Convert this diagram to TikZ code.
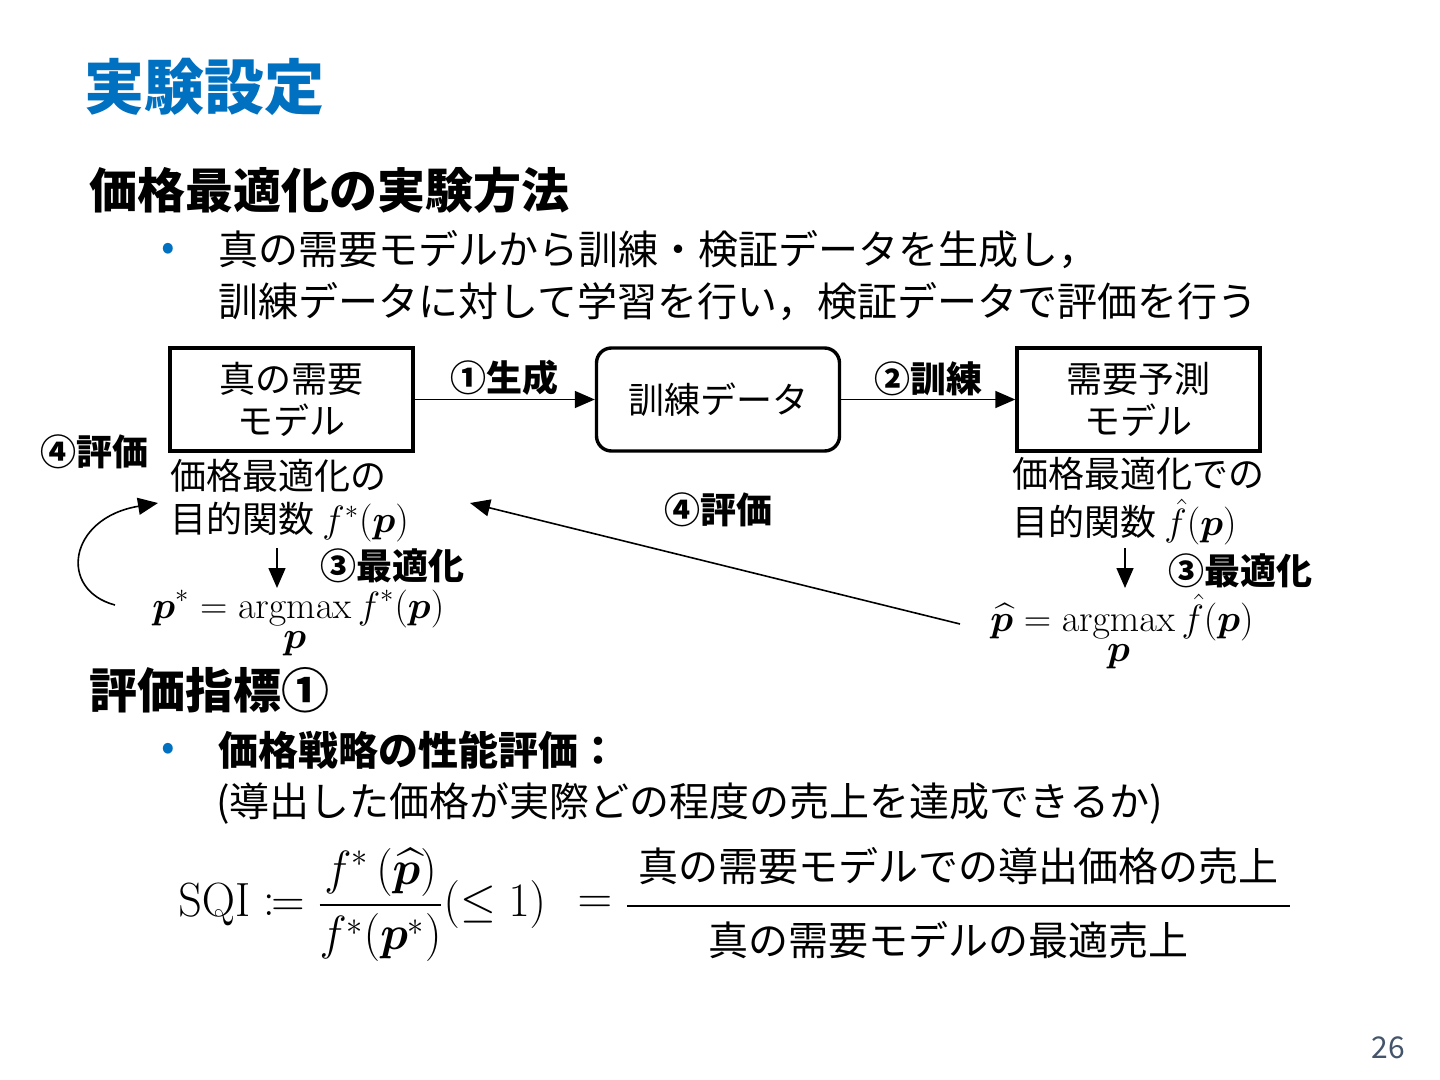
\RequirePackage{fix-cm}
\documentclass[tikz,border=0pt]{standalone}
\usepackage[no-math]{fontspec}
\usepackage{amsmath,mathtools,bm}
\newfontfamily\jp{Noto Sans CJK JP}
\usetikzlibrary{arrows.meta}
\definecolor{titleblue}{RGB}{0,112,192}
\definecolor{pagegray}{RGB}{68,84,106}
\begin{document}
\begin{tikzpicture}[x=0.5pt,y=-0.5pt,
  box/.style={draw, line width=1.7pt, minimum width=121.5pt, minimum height=51.5pt,
    align=center, inner sep=0pt, font=\jp\fontsize{18}{21}\selectfont},
  lbl/.style={inner sep=0pt, font=\jp\bfseries\fontsize{18}{22}\selectfont},
  txt/.style={inner sep=0pt, anchor=west, font=\jp\fontsize{18}{22}\selectfont},
  body/.style={inner sep=0pt, anchor=west, font=\jp\fontsize{20}{24}\selectfont},
  head/.style={inner sep=0pt, anchor=west, font=\jp\bfseries\fontsize{24}{28}\selectfont},
  bul/.style={inner sep=0pt, text=titleblue, font=\jp\fontsize{20}{24}\selectfont},
  mth/.style={inner sep=0pt, font=\fontsize{19}{23}\selectfont},
  arr/.style={line width=0.8pt, -{Triangle[length=10pt,width=8.5pt]}}]
\useasboundingbox[fill=white] (0,0) rectangle (1440,1080);

% title and headings
\node[inner sep=0pt, anchor=west, text=titleblue, font=\jp\bfseries\fontsize{30}{34}\selectfont] (title) at (84,87) {実験設定};
\node[head] (h1) at (89,190) {価格最適化の実験方法};
\node[bul] (b1dot) at (168,252) {•};
\node[body] (l1) at (218,250) {真の需要モデルから訓練・検証データを生成し，};
\node[body] (l2) at (218,302) {訓練データに対して学習を行い，検証データで評価を行う};

% boxes
\node[box] (truem) at (291.5,399.5) {真の需要\\モデル};
\node[box, rounded corners=7.5pt] (train) at (718,399.5) {訓練データ};
\node[box] (predm) at (1138.5,399.5) {需要予測\\モデル};
\draw[arr] (truem.east) -- node[lbl, above=1.5pt] (g1) {①生成} (train.west);
\draw[arr] (train.east) -- node[lbl, above=1.5pt] (g2) {②訓練} (predm.west);

% left side
\node[lbl, anchor=west] (ev1) at (40,452) {④評価};
\node[txt] (lt1) at (170,476) {価格最適化の};
\node[txt] (lt2) at (170,522) {目的関数 {\fontsize{19}{23}\selectfont$f^{*}(\bm{p})$}};
\coordinate (la1) at (277,548);
\coordinate (la2) at (277,588);
\draw[arr] (la1) -- (la2);
\node[lbl, anchor=west] (opt1) at (320,566) {③最適化};
\node[mth, anchor=base west] (lf) at (152,618) {$\displaystyle \bm{p}^{*} = \operatorname*{argmax}_{\textstyle\bm{p}} f^{*}(\bm{p})$};
\coordinate (cs) at (115,605);
\coordinate (ce) at (158,503);
\draw[arr] (cs) .. controls (58,590) and (68,518) .. (ce);

% right side
\node[txt] (rt1) at (1012,474) {価格最適化での};
\node[txt] (rt2) at (1012,522) {目的関数 {\fontsize{19}{23}\selectfont$\hat{f}(\bm{p})$}};
\coordinate (ra1) at (1125,548);
\coordinate (ra2) at (1125,588);
\draw[arr] (ra1) -- (ra2);
\node[lbl, anchor=west] (opt2) at (1168,571) {③最適化};
\node[mth, anchor=base west] (rf) at (990,631) {$\displaystyle \widehat{\bm{p}} = \operatorname*{argmax}_{\textstyle\bm{p}} \hat{f}(\bm{p})$};

% evaluation arrow
\coordinate (es) at (960,624);
\coordinate (ee) at (470,503);
\draw[arr] (es) -- (ee);
\node[lbl] (ev2) at (718,510) {④評価};

% metrics
\node[head] (h2) at (89,690) {評価指標①};
\node[bul] (b2dot) at (168,752) {•};
\node[body, font=\jp\bfseries\fontsize{20}{24}\selectfont] (m1) at (218,750) {価格戦略の性能評価：};
\node[body] (m2) at (216,803) {(導出した価格が実際どの程度の売上を達成できるか)};

\node[inner sep=0pt, anchor=west, font=\fontsize{24}{28}\selectfont] (sqi) at (178,905)
  {\scalebox{0.96}[1]{$\mathrm{SQI} \coloneqq \dfrac{f^{*}\,(\widehat{\bm{p}})}{f^{*}(\bm{p}^{*})}(\le 1)$}};
\node[inner sep=0pt, font=\fontsize{24}{28}\selectfont] (eq) at (595,905) {$=$};
\node[inner sep=0pt, font=\jp\fontsize{20}{24}\selectfont] (num) at (958,866) {真の需要モデルでの導出価格の売上};
\node[inner sep=0pt, font=\jp\fontsize{20}{24}\selectfont] (den) at (948,940) {真の需要モデルの最適売上};
\draw[line width=1pt] (627,906) -- (1290,906);

\node[inner sep=0pt, text=pagegray, font=\jp\fontsize{15}{18}\selectfont] (pg) at (1388,1048) {26};
\end{tikzpicture}
\end{document}
